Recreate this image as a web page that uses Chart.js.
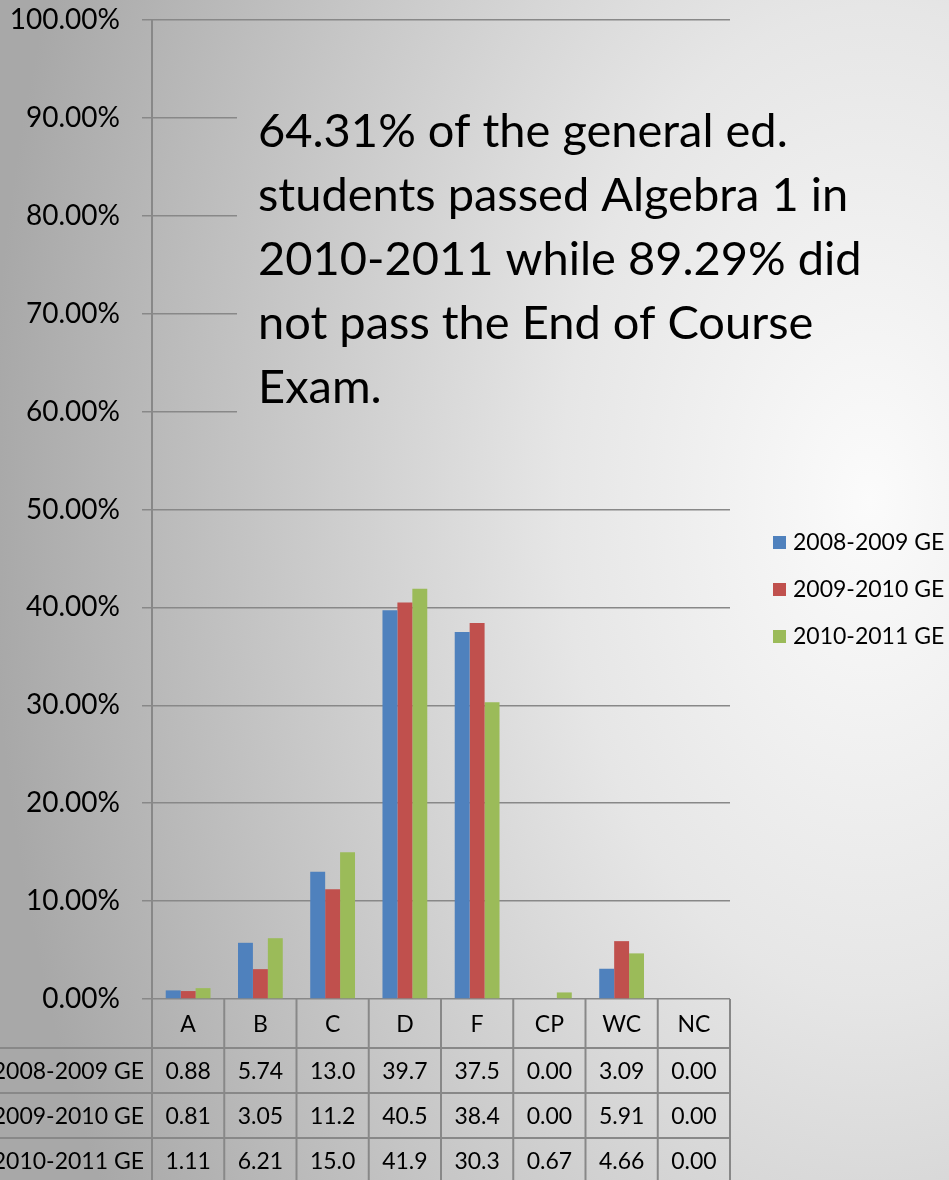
<!DOCTYPE html>
<html>
<head>
<meta charset="utf-8">
<title>Algebra 1 grades, general ed.</title>
<script src="https://cdn.jsdelivr.net/npm/chart.js@4"></script>
<style>
    html, body { margin: 0; padding: 0; background: #d0d0d0; }
    #chart { display: block; }
</style>
</head>
<body>
<canvas id="chart" width="949" height="1180"></canvas>
<script>
// Grade categories and the share (%) of students per grade, per school year
const categories = ['A', 'B', 'C', 'D', 'F', 'CP', 'WC', 'NC'];
const seriesLabels = ['2008-2009 GE', '2009-2010 GE', '2010-2011 GE'];
const values0809 = [0.88, 5.74, 13.0, 39.7, 37.5, 0.00, 3.09, 0.00];
const values0910 = [0.81, 3.05, 11.2, 40.5, 38.4, 0.00, 5.91, 0.00];
const values1011 = [1.11, 6.21, 15.0, 41.9, 30.3, 0.67, 4.66, 0.00];
const yMax = 100;
const yStep = 10;
const noteLines = [
    '64.31% of the general ed.',
    'students passed Algebra 1 in',
    '2010-2011 while 89.29% did',
    'not pass the End of Course',
    'Exam.',
];

const SERIES_COLORS = ['#4f81bd', '#c0504d', '#9bbb59'];
const LINE_COLOR = '#888888';
const FONT = 'Lato, "Open Sans", sans-serif';

// slide-like background: light spot on the right fading to grey on the left
function paintBackground(ctx, x, y, w, h) {
    ctx.save();
    ctx.beginPath();
    ctx.rect(x, y, w, h);
    ctx.clip();
    ctx.translate(870, 500);
    ctx.scale(1, 1.6);
    const g = ctx.createRadialGradient(0, 0, 0, 0, 0, 880);
    g.addColorStop(0, '#fbfbfb');
    g.addColorStop(0.35, '#e6e6e6');
    g.addColorStop(1, '#a8a8a8');
    ctx.fillStyle = g;
    ctx.fillRect(-2000, -2000, 4000, 4000);
    ctx.restore();
}

function fmtCell(v) {
    return v >= 10 ? v.toFixed(1) : v.toFixed(2);
}

const backgroundPlugin = {
    id: 'slideBackground',
    beforeDraw(chart) {
        paintBackground(chart.ctx, 0, 0, chart.width, chart.height);
    },
};

// text box sits on top of the upper grid lines
const notePlugin = {
    id: 'noteBox',
    beforeDatasetsDraw(chart) {
        const ctx = chart.ctx;
        paintBackground(ctx, 237, 40, 660, 390);
        ctx.save();
        ctx.fillStyle = '#000';
        ctx.font = '47px ' + FONT;
        ctx.textAlign = 'left';
        ctx.textBaseline = 'alphabetic';
        noteLines.forEach((line, i) => {
            ctx.fillText(line, 258, 147 + i * 64);
        });
        ctx.restore();
    },
};

// data table under the x axis + legend on the right
const tablePlugin = {
    id: 'dataTable',
    afterDraw(chart) {
        const ctx = chart.ctx;
        const x = chart.scales.x;
        const area = chart.chartArea;
        const colW = (area.right - area.left) / categories.length;
        const headerBottom = area.bottom + 49;
        const rowH = 45;
        const sets = chart.data.datasets;

        ctx.save();
        ctx.strokeStyle = LINE_COLOR;
        ctx.lineWidth = 2;

        // horizontal lines
        for (let r = 0; r <= sets.length; r++) {
            const y = headerBottom + r * rowH;
            ctx.beginPath();
            ctx.moveTo(0, y);
            ctx.lineTo(area.right, y);
            ctx.stroke();
        }
        // vertical lines
        for (let c = 0; c <= categories.length; c++) {
            const xx = area.left + c * colW;
            ctx.beginPath();
            ctx.moveTo(xx, area.bottom);
            ctx.lineTo(xx, chart.height);
            ctx.stroke();
        }

        ctx.fillStyle = '#000';
        ctx.textBaseline = 'middle';
        ctx.textAlign = 'center';
        ctx.font = '23px ' + FONT;
        categories.forEach((cat, i) => {
            ctx.fillText(cat, x.getPixelForValue(i), (area.bottom + headerBottom) / 2 + 1);
        });
        sets.forEach((ds, r) => {
            const cy = headerBottom + r * rowH + rowH / 2 + 1;
            ctx.textAlign = 'right';
            ctx.fillText(ds.label, area.left - 8, cy);
            ctx.textAlign = 'center';
            ds.data.forEach((v, i) => {
                ctx.fillText(fmtCell(v), x.getPixelForValue(i), cy);
            });
        });

        // legend
        ctx.textAlign = 'left';
        sets.forEach((ds, r) => {
            const cy = 542 + r * 47;
            ctx.fillStyle = ds.backgroundColor;
            ctx.fillRect(773, cy - 6, 13, 13);
            ctx.fillStyle = '#000';
            ctx.fillText(ds.label, 793, cy + 1);
        });
        ctx.restore();
    },
};

const seriesValues = [values0809, values0910, values1011];

new Chart(document.getElementById('chart'), {
    type: 'bar',
    data: {
        labels: categories,
        datasets: seriesLabels.map((label, i) => ({
            label,
            data: seriesValues[i],
            backgroundColor: SERIES_COLORS[i],
            borderWidth: 0,
            barPercentage: 1,
            categoryPercentage: 0.62,
        })),
    },
    options: {
        responsive: false,
        animation: false,
        devicePixelRatio: 1,
        layout: { padding: { top: 20, right: 219, bottom: 181, left: 0 } },
        plugins: {
            legend: { display: false },
            tooltip: { enabled: false },
        },
        scales: {
            x: {
                display: false,
            },
            y: {
                min: 0,
                max: yMax,
                afterFit(scale) {
                    scale.width = 152;
                    scale.paddingTop = 0;
                    scale.paddingBottom = 0;
                },
                ticks: {
                    stepSize: yStep,
                    padding: 22,
                    color: '#000',
                    font: { family: FONT, size: 28 },
                    callback: v => v.toFixed(2) + '%',
                },
                grid: {
                    color: LINE_COLOR,
                    lineWidth: 1.5,
                    tickLength: 10,
                },
                border: { color: LINE_COLOR, width: 2 },
            },
        },
    },
    plugins: [backgroundPlugin, notePlugin, tablePlugin],
});
</script>
</body>
</html>
